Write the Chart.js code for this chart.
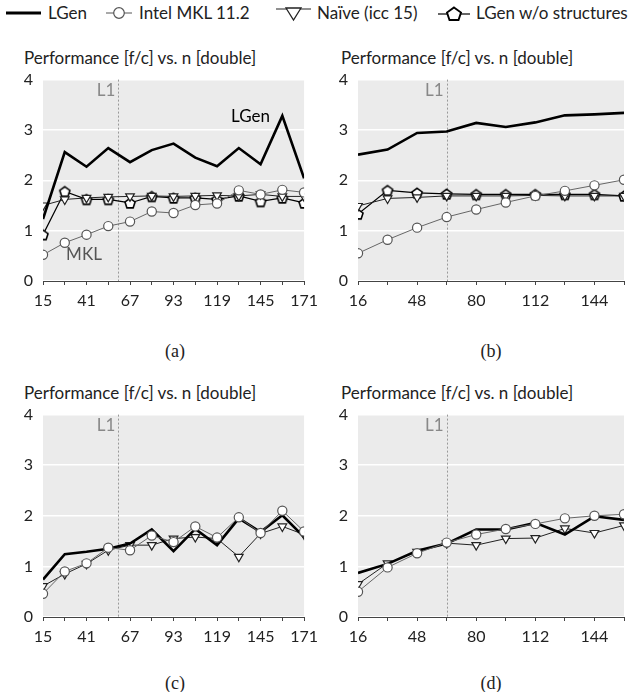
<!DOCTYPE html>
<html>
<head>
<meta charset="utf-8">
<script src="https://cdn.jsdelivr.net/npm/chart.js@4.4.1/dist/chart.umd.min.js"></script>
<style>
  body { margin: 0; width: 639px; height: 692px; background: #fff; position: relative; overflow: hidden; font-family: Lato, sans-serif; color: #222; }
  .box { position: absolute; }
  .title { position: absolute; font-size: 17px; line-height: 20px; white-space: nowrap; color: #222; }
  .cap { position: absolute; font-family: "Liberation Serif", serif; font-size: 18px; line-height: 20px; transform: translateX(-50%); }
  .sym { position: absolute; top: 6px; }
  .lt { position: absolute; top: 3px; font-size: 17px; line-height: 20px; white-space: nowrap; color: #222; }
</style>
</head>
<body>

<svg class="sym" style="left:6px" width="36" height="14"><line x1="0" y1="7" x2="35" y2="7" stroke="#000" stroke-width="3"/></svg>
<div class="lt" style="left:48px">LGen</div>
<svg class="sym" style="left:106px" width="26" height="14"><line x1="0" y1="7" x2="26" y2="7" stroke="#555" stroke-width="1"/><circle cx="13" cy="7" r="5.3" fill="#fff" stroke="#555" stroke-width="1.2"/></svg>
<div class="lt" style="left:139px">Intel MKL 11.2</div>
<svg class="sym" style="left:276px" width="35" height="16"><line x1="0" y1="3" x2="35" y2="3" stroke="#222" stroke-width="1.2"/><polygon points="10,2 25,2 17.5,14" fill="#fff" stroke="#222" stroke-width="1.3"/></svg>
<div class="lt" style="left:317px">Naïve (icc 15)</div>
<svg class="sym" style="left:438px" width="32" height="16"><line x1="0" y1="8" x2="32" y2="8" stroke="#000" stroke-width="1.2"/><polygon points="16,1.5 23,6.5 20.5,14 11.5,14 9,6.5" fill="#fff" stroke="#000" stroke-width="1.9"/></svg>
<div class="lt" style="left:476px">LGen w/o structures</div>

<div class="title" style="left:24px;top:48px">Performance [f/c] vs. n [double]</div>
<div class="title" style="left:341px;top:48px">Performance [f/c] vs. n [double]</div>
<div class="title" style="left:24px;top:383px">Performance [f/c] vs. n [double]</div>
<div class="title" style="left:341px;top:383px">Performance [f/c] vs. n [double]</div>

<div class="box" style="left:0;top:60px;width:324px;height:261px"><canvas id="pa"></canvas></div>
<div class="box" style="left:315px;top:60px;width:324px;height:261px"><canvas id="pb"></canvas></div>
<div class="box" style="left:0;top:395px;width:324px;height:262px"><canvas id="pc"></canvas></div>
<div class="box" style="left:315px;top:395px;width:324px;height:262px"><canvas id="pd"></canvas></div>

<div class="cap" style="left:175px;top:341px">(a)</div>
<div class="cap" style="left:491px;top:341px">(b)</div>
<div class="cap" style="left:175px;top:673px">(c)</div>
<div class="cap" style="left:491px;top:673px">(d)</div>

<script>
// problem sizes
var nOdd  = [15, 28, 41, 54, 67, 80, 93, 106, 119, 132, 145, 158, 171];
var nEven = [16, 32, 48, 64, 80, 96, 112, 128, 144, 160];
var yTicks = [0, 1, 2, 3, 4];

// (a)
var lgenA     = [1.23, 2.56, 2.27, 2.64, 2.36, 2.60, 2.73, 2.45, 2.28, 2.64, 2.32, 3.28, 2.04];
var mklA      = [0.52, 0.76, 0.92, 1.09, 1.18, 1.38, 1.35, 1.51, 1.54, 1.80, 1.72, 1.81, 1.76];
var naiveA    = [1.50, 1.62, 1.65, 1.67, 1.68, 1.69, 1.68, 1.69, 1.70, 1.69, 1.72, 1.68, 1.68];
var noStructA = [0.92, 1.78, 1.62, 1.62, 1.55, 1.68, 1.65, 1.65, 1.62, 1.69, 1.58, 1.65, 1.55];

// (b)
var lgenB     = [2.51, 2.61, 2.94, 2.97, 3.14, 3.06, 3.15, 3.29, 3.31, 3.34];
var mklB      = [0.55, 0.82, 1.06, 1.27, 1.42, 1.56, 1.69, 1.79, 1.90, 2.01];
var naiveB    = [1.49, 1.64, 1.66, 1.69, 1.69, 1.69, 1.70, 1.69, 1.69, 1.69];
var noStructB = [1.33, 1.80, 1.75, 1.73, 1.72, 1.72, 1.72, 1.72, 1.72, 1.69];

// (c)
var lgenC  = [0.74, 1.24, 1.29, 1.35, 1.45, 1.73, 1.30, 1.74, 1.42, 1.95, 1.68, 2.01, 1.58];
var mklC   = [0.46, 0.90, 1.06, 1.37, 1.32, 1.61, 1.48, 1.79, 1.57, 1.97, 1.66, 2.10, 1.69];
var naiveC = [0.61, 0.85, 1.05, 1.32, 1.42, 1.42, 1.55, 1.58, 1.55, 1.19, 1.65, 1.79, 1.63];

// (d)
var lgenD  = [0.87, 1.05, 1.31, 1.45, 1.73, 1.73, 1.86, 1.63, 1.99, 1.92];
var mklD   = [0.50, 0.98, 1.26, 1.47, 1.63, 1.74, 1.84, 1.95, 2.00, 2.03];
var naiveD = [0.65, 1.06, 1.29, 1.46, 1.42, 1.55, 1.56, 1.75, 1.66, 1.81];

var FONT = "Lato, sans-serif";

function pentagon() {
  var c = document.createElement("canvas");
  c.width = 14; c.height = 14;
  var g = c.getContext("2d");
  g.beginPath();
  for (var i = 0; i < 5; i++) {
    var a = -Math.PI / 2 + i * 2 * Math.PI / 5;
    var px = 7 + 5.3 * Math.cos(a), py = 7.6 + 5.3 * Math.sin(a);
    if (i === 0) g.moveTo(px, py); else g.lineTo(px, py);
  }
  g.closePath();
  g.fillStyle = "#fff"; g.fill();
  g.lineWidth = 1.6; g.strokeStyle = "#000"; g.stroke();
  return c;
}
var pentImg = pentagon();

function pts(xs, ys) {
  return xs.map(function(x, i) { return { x: x, y: ys[i] }; });
}

function lgenSet(xs, ys) {
  return { label: "LGen", data: pts(xs, ys), borderColor: "#000", borderWidth: 2.6,
           pointRadius: 0, order: 1 };
}
function mklSet(xs, ys) {
  return { label: "Intel MKL 11.2", data: pts(xs, ys), borderColor: "#666", borderWidth: 1,
           pointStyle: "circle", pointRadius: 4.6, pointBackgroundColor: "#fff",
           pointBorderColor: "#555", pointBorderWidth: 1.2, order: 0 };
}
function naiveSet(xs, ys) {
  return { label: "Naïve (icc 15)", data: pts(xs, ys), borderColor: "#222", borderWidth: 1,
           pointStyle: "triangle", rotation: 180, pointRadius: 5, pointBackgroundColor: "#fff",
           pointBorderColor: "#222", pointBorderWidth: 1.2, order: 2 };
}
function noStructSet(xs, ys) {
  return { label: "LGen w/o structures", data: pts(xs, ys), borderColor: "#000", borderWidth: 1.2,
           pointStyle: pentImg, pointRadius: 5, order: 3 };
}

var panelDeco = {
  id: "panelDeco",
  beforeDraw: function(chart) {
    var a = chart.chartArea, ctx = chart.ctx;
    ctx.save();
    ctx.fillStyle = "#ebebeb";
    ctx.fillRect(a.left, a.top, a.right - a.left, a.bottom - a.top);
    ctx.restore();
  },
  beforeDatasetsDraw: function(chart, args, o) {
    var a = chart.chartArea, ctx = chart.ctx;
    var x = chart.scales.x.getPixelForValue(o.l1);
    ctx.save();
    ctx.strokeStyle = "#999";
    ctx.lineWidth = 1;
    ctx.setLineDash([2, 2]);
    ctx.beginPath();
    ctx.moveTo(Math.round(x) + 0.5, a.top);
    ctx.lineTo(Math.round(x) + 0.5, a.bottom);
    ctx.stroke();
    ctx.setLineDash([]);
    ctx.fillStyle = "#888";
    ctx.font = "17px " + FONT;
    ctx.textAlign = "right";
    ctx.textBaseline = "middle";
    ctx.fillText("L1", x - 3, chart.scales.y.getPixelForValue(3.78));
    (o.notes || []).forEach(function(n) {
      ctx.fillStyle = n.color;
      ctx.textAlign = "center";
      ctx.fillText(n.text, chart.scales.x.getPixelForValue(n.x), chart.scales.y.getPixelForValue(n.y));
    });
    ctx.restore();
  }
};

function makePanel(id, xs, step, l1, datasets, notes) {
  var first = xs[0], last = xs[xs.length - 1];
  return new Chart(document.getElementById(id), {
    type: "line",
    data: { datasets: datasets },
    options: {
      responsive: true,
      maintainAspectRatio: false,
      animation: false,
      events: [],
      layout: { padding: { top: 14, right: 15, left: 0, bottom: 0 } },
      plugins: {
        legend: { display: false },
        tooltip: { enabled: false },
        panelDeco: { l1: l1, notes: notes }
      },
      scales: {
        x: {
          type: "linear", min: first, max: last,
          afterBuildTicks: function(s) {
            s.ticks = xs.map(function(v) { return { value: v }; });
          },
          afterFit: function(s) { s.height = 40; },
          ticks: {
            autoSkip: false, maxRotation: 0, padding: 6, color: "#222",
            font: { family: FONT, size: 16 },
            callback: function(v) { return ((v - first) / step) % 2 === 0 ? String(v) : ""; }
          },
          grid: { drawOnChartArea: false, drawTicks: true, tickLength: 4, color: "#444" },
          border: { display: true, color: "#444", width: 1 }
        },
        y: {
          min: 0, max: 4,
          afterBuildTicks: function(s) {
            s.ticks = yTicks.map(function(v) { return { value: v }; });
          },
          afterFit: function(s) { s.width = 43; },
          ticks: { padding: 10, color: "#222", font: { family: FONT, size: 16 } },
          grid: { color: "#fff", lineWidth: 1.5, drawTicks: false },
          border: { display: false }
        }
      }
    },
    plugins: [panelDeco]
  });
}

makePanel("pa", nOdd, 13, 60,
  [lgenSet(nOdd, lgenA), mklSet(nOdd, mklA), naiveSet(nOdd, naiveA), noStructSet(nOdd, noStructA)],
  [{ text: "LGen", x: 139, y: 3.27, color: "#000" }, { text: "MKL", x: 39.5, y: 0.52, color: "#555" }]);
makePanel("pb", nEven, 16, 64,
  [lgenSet(nEven, lgenB), mklSet(nEven, mklB), naiveSet(nEven, naiveB), noStructSet(nEven, noStructB)], []);
makePanel("pc", nOdd, 13, 60,
  [lgenSet(nOdd, lgenC), mklSet(nOdd, mklC), naiveSet(nOdd, naiveC)], []);
makePanel("pd", nEven, 16, 64,
  [lgenSet(nEven, lgenD), mklSet(nEven, mklD), naiveSet(nEven, naiveD)], []);
</script>
</body>
</html>
